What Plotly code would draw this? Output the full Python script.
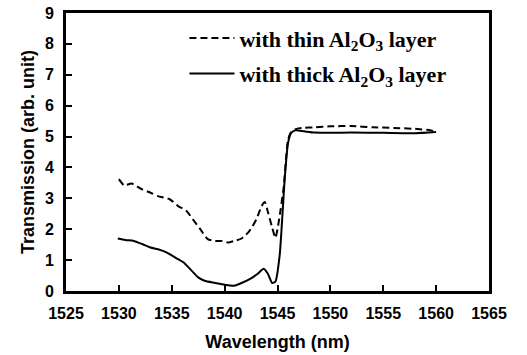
import plotly.graph_objects as go

thin_x = [1530.0, 1530.5, 1531.2, 1532.2, 1533.0, 1533.7, 1534.8, 1535.6, 1536.4, 1537.0,
          1537.7, 1538.4, 1539.1, 1539.8, 1540.3, 1540.9, 1541.6, 1542.3, 1543.0, 1543.5,
          1543.8, 1544.1, 1544.5, 1544.8, 1545.0, 1545.3, 1545.6, 1545.8, 1546.0, 1546.3,
          1546.8, 1547.5, 1548.5, 1550.0, 1552.0, 1554.0, 1556.0, 1558.0, 1559.5, 1560.0]
thin_y = [3.62, 3.42, 3.48, 3.29, 3.18, 3.07, 2.97, 2.75, 2.59, 2.32,
          2.00, 1.68, 1.62, 1.62, 1.57, 1.62, 1.70, 1.92, 2.32, 2.75,
          2.88, 2.55, 2.05, 1.72, 2.00, 2.65, 3.40, 4.25, 4.90, 5.15,
          5.25, 5.28, 5.30, 5.33, 5.34, 5.30, 5.28, 5.25, 5.20, 5.14]

thick_x = [1529.9, 1530.6, 1531.4, 1532.2, 1533.0, 1533.7, 1534.5, 1535.3, 1536.1, 1536.9,
           1537.5, 1538.1, 1539.1, 1540.0, 1540.9, 1541.6, 1542.5, 1543.1, 1543.7, 1544.1,
           1544.5, 1544.8, 1545.2, 1545.5, 1545.7, 1546.0, 1546.3, 1546.7, 1547.5, 1548.5,
           1550.0, 1552.0, 1555.0, 1558.0, 1560.0]
thick_y = [1.70, 1.65, 1.62, 1.52, 1.41, 1.35, 1.25, 1.09, 0.93, 0.65,
           0.44, 0.33, 0.26, 0.20, 0.17, 0.26, 0.41, 0.55, 0.72, 0.55,
           0.26, 0.30, 1.14, 2.65, 3.72, 4.80, 5.12, 5.20, 5.17, 5.13,
           5.12, 5.13, 5.12, 5.11, 5.15]

x_ticks = [1525, 1530, 1535, 1540, 1545, 1550, 1555, 1560, 1565]
y_ticks = [0, 1, 2, 3, 4, 5, 6, 7, 8, 9]

name_thin = "with thin Al<sub>2</sub>O<sub>3</sub> layer"
name_thick = "with thick Al<sub>2</sub>O<sub>3</sub> layer"

fig = go.Figure()
fig.add_trace(go.Scatter(x=thin_x, y=thin_y, mode="lines", name=name_thin,
                         legendgroup="a",
                         line=dict(color="black", width=2, dash="7px,4px", shape="spline", smoothing=0.6)))
fig.add_trace(go.Scatter(x=thick_x, y=thick_y, mode="lines", name=name_thick,
                         legendgroup="b",
                         line=dict(color="black", width=2, shape="spline", smoothing=0.6)))

tickfont = dict(family="Liberation Sans, Arial, sans-serif", size=16, color="black", weight="bold")
titlefont = dict(family="Liberation Sans, Arial, sans-serif", size=18, color="black", weight="bold")

fig.update_layout(
    width=527, height=355,
    margin=dict(l=66, r=38, t=13, b=64, autoexpand=False),
    paper_bgcolor="white", plot_bgcolor="white",
    showlegend=True,
    legend=dict(x=0.28, y=0.985, xanchor="left", yanchor="top",
                bgcolor="rgba(0,0,0,0)", borderwidth=0,
                font=dict(family="Liberation Serif, Times New Roman, serif", size=22, color="black", weight="bold"),
                tracegroupgap=4, itemwidth=45),
    xaxis=dict(range=[1525, 1565], tickvals=x_ticks, ticktext=[str(v) for v in x_ticks],
               ticks="inside", ticklen=6, tickwidth=2, tickcolor="black",
               showline=True, linecolor="black", linewidth=3, mirror=True, automargin=False,
               showgrid=False, zeroline=False, tickfont=tickfont, ticklabelstandoff=6,
               ticklabeloverflow="allow",
               title=dict(text="Wavelength (nm)", font=titlefont, standoff=15)),
    yaxis=dict(range=[0, 9], tickvals=y_ticks, ticktext=[str(v) for v in y_ticks],
               ticks="inside", ticklen=6, tickwidth=2, tickcolor="black",
               showline=True, linecolor="black", linewidth=3, mirror=True, automargin=False,
               showgrid=False, zeroline=False, tickfont=tickfont, ticklabelstandoff=6,
               ticklabeloverflow="allow",
               title=dict(text="Transmission (arb. unit)", font=titlefont, standoff=6)),
)

fig.write_html("out.html", config={"displayModeBar": False},
               post_script="document.body.style.margin='0px';")
